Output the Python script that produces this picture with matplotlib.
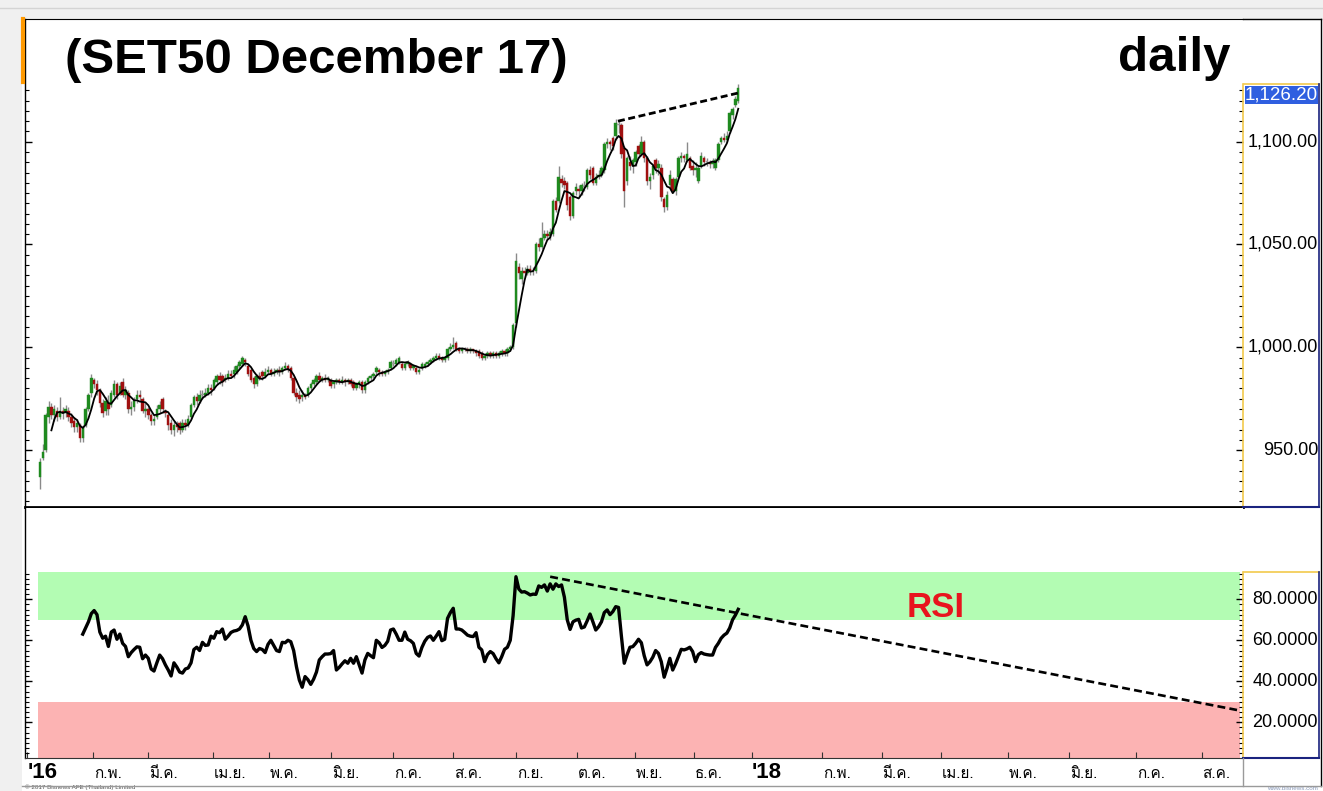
import numpy as np
import pandas as pd
import matplotlib
matplotlib.use("Agg")
import matplotlib.pyplot as plt
from matplotlib import font_manager as fm
from matplotlib.ft2font import FT2Font
from matplotlib.patches import Rectangle
from matplotlib.lines import Line2D
import matplotlib.transforms as mtransforms
from matplotlib.ticker import FixedLocator, NullFormatter

# ---------------- data (daily bars) ----------------
opens = [937,946,950,966,971,967,969,966,969,968,
 969,966,964,961,962,956,962,970,978,984,
 982,979,973,969,973,972,977,982,978,983,
 977,978,970,971,975,977,975,969,970,967,
 964,966,970,975,969,967,963,960,962,963,
 960,963,962,966,972,976,974,977,977,978,
 980,980,983,986,986,984,985,987,987,988,
 991,992,994,991,989,985,982,986,988,986,
 988,989,987,988,989,988,990,991,990,985,
 978,977,976,977,977,980,982,983,986,984,
 985,984,984,982,983,984,983,984,983,984,
 983,980,982,983,979,983,985,986,988,989,
 988,987,988,990,992,992,993,992,990,992,
 992,990,990,988,990,991,992,993,994,995,
 996,995,994,995,999,1000,1002,999,998,999,
 999,998,999,998,998,997,995,996,997,996,
 997,996,997,998,997,999,1000,1012,1039,1033,
 1037,1036,1038,1037,1037,1050,1049,1053,1055,1054,
 1055,1071,1071,1082,1081,1080,1073,1064,1076,1077,
 1076,1078,1078,1086,1087,1080,1083,1084,1086,1099,
 1100,1102,1103,1108,1108,1097,1081,1090,1088,1090,
 1098,1094,1100,1092,1081,1084,1091,1087,1087,1072,
 1068,1079,1082,1076,1083,1092,1093,1091,1092,1088,
 1086,1081,1088,1092,1090,1090,1089,1087,1091,1100,
 1102,1101,1105,1113,1118,1120]

closes = [944,949,967,971,967,970,966,969,968,970,
 966,963,961,963,956,961,970,977,985,982,
 979,973,968,974,970,978,982,977,981,977,
 979,970,971,974,977,976,969,970,967,964,
 965,970,972,970,968,962,960,962,961,960,
 963,962,965,972,976,974,977,977,978,980,
 979,984,986,984,983,985,987,986,989,991,
 993,995,993,987,984,982,986,985,986,988,
 989,987,988,989,988,990,991,989,985,978,
 976,975,977,976,980,982,984,986,984,985,
 984,985,981,983,984,983,984,983,984,982,
 980,982,983,979,983,985,986,987,990,988,
 987,988,989,993,992,994,995,990,992,993,
 990,991,988,989,992,992,993,994,995,996,
 995,994,995,999,1000,1001,999,998,999,999,
 998,999,998,997,996,995,996,997,996,997,
 996,997,998,997,999,1000,1011,1042,1036,1037,
 1036,1038,1037,1037,1050,1049,1053,1055,1054,1056,
 1071,1067,1083,1080,1079,1069,1064,1075,1078,1076,
 1079,1078,1086,1084,1080,1083,1084,1087,1099,1100,
 1099,1098,1109,1108,1094,1076,1092,1088,1091,1095,
 1094,1100,1092,1081,1083,1088,1087,1089,1073,1068,
 1074,1084,1076,1082,1092,1093,1092,1094,1087,1086,
 1087,1087,1093,1090,1090,1089,1090,1091,1099,1102,
 1101,1103,1114,1116,1121,1126.2]

highs = [946,953,968,974,973,972,971,976,971,972,
 971,968,966,965,963,962,971,978,987,985,
 984,980,975,976,977,979,984,983,983,985,
 981,979,974,976,979,979,976,973,971,968,
 967,972,974,976,970,968,965,964,964,964,
 965,965,967,973,977,978,979,979,980,982,
 982,985,987,988,987,987,989,989,991,992,
 994,996,995,992,990,986,987,988,989,990,
 991,990,990,990,991,991,993,992,991,986,
 980,979,979,978,981,983,985,987,988,986,
 987,986,985,984,985,985,986,985,985,985,
 984,983,984,984,984,986,987,988,991,990,
 989,989,990,994,994,995,996,993,993,994,
 993,992,991,990,993,993,994,995,996,997,
 997,996,996,1000,1002,1005,1003,1000,1000,1000,
 1000,1000,999,999,999,998,997,998,998,998,
 998,998,999,999,1000,1001,1012,1046,1041,1039,
 1039,1040,1040,1039,1051,1053,1061,1057,1057,1058,
 1072,1073,1088,1084,1083,1081,1074,1076,1080,1079,
 1080,1081,1087,1088,1088,1085,1086,1088,1100,1102,
 1101,1103,1111,1110,1109,1098,1093,1093,1092,1096,
 1099,1103,1101,1093,1085,1089,1092,1091,1089,1073,
 1076,1086,1083,1083,1093,1095,1094,1100,1093,1091,
 1090,1088,1095,1093,1092,1091,1092,1092,1100,1103,
 1104,1105,1115,1117,1122,1128]

lows = [931,945,949,963,965,964,964,965,965,966,
 964,961,959,959,954,954,961,969,976,980,
 977,971,966,967,967,971,976,975,977,976,
 975,968,967,969,973,974,968,966,965,962,
 962,965,968,968,966,960,958,957,959,958,
 959,960,961,965,971,972,973,975,976,977,
 977,979,982,982,981,983,984,985,985,987,
 990,991,991,986,983,980,981,984,984,985,
 987,986,986,987,986,987,989,988,984,977,
 974,973,974,975,976,979,981,982,983,983,
 983,983,980,980,982,982,982,981,982,981,
 979,979,980,978,978,982,984,985,987,986,
 986,986,987,989,991,991,992,989,989,991,
 989,989,987,987,989,990,991,992,993,994,
 994,993,993,994,998,999,998,997,997,998,
 997,997,997,996,995,994,994,995,995,995,
 995,995,996,996,996,998,999,1010,1033,1031,
 1034,1035,1035,1035,1036,1047,1048,1052,1052,1052,
 1054,1066,1070,1078,1077,1067,1062,1063,1074,1073,
 1074,1076,1077,1082,1079,1079,1082,1083,1085,1097,
 1096,1096,1101,1104,1092,1068,1079,1086,1085,1088,
 1092,1093,1090,1079,1077,1082,1085,1084,1071,1066,
 1067,1078,1075,1074,1082,1090,1090,1090,1086,1084,
 1083,1080,1087,1088,1088,1087,1087,1086,1090,1099,
 1100,1100,1104,1111,1117,1119]

ma_period = 5

rsi_start = 15
rsi_values = [63,66,69,73,74.5,72.5,64,61,62,57,
 64,65,60.5,63,58.5,57,52,54,55.5,56.8,
 56.6,51,52.8,51.2,46,45,49,52.8,51,48,
 45.5,42.6,49,47,44.5,44,46,46.5,49,55.5,
 56.6,55,59,57.5,57.7,62,61,64.2,63.7,65.5,
 60.5,62,63.8,64.5,64.8,65.5,67.5,71.5,67,60,
 56,54.5,56,55.5,54,58,60,57.5,55,54.5,
 59,58.8,60,59.3,55,47,40.6,37.1,42.3,40.8,
 38.5,41,44.5,50.4,52,53.3,53.3,53.5,55,45.5,
 46.8,48.5,50,48.8,51.2,48.8,52,48,44,50.4,
 53.6,52.5,51.5,60,58.8,56.5,57.5,59.5,65,65.5,
 63,60,60,64,60.5,59.8,58.5,53.6,52.3,56.5,
 59.5,61.4,62.1,60,62,64.2,59.8,60.5,70.7,73.5,
 75.6,65.5,65.5,65,63.8,62.5,62,61.8,63.7,56.6,
 55.3,49.6,53,54.5,53.5,51,49,52,55.6,56.6,
 60,72,91,85,83.5,83.7,83,82.1,82.5,82.4,
 86.5,85.8,87,84,87.5,84.9,87.5,86.2,87,81,
 70,65.3,69,69.8,70.2,66,66.5,69.5,72.8,69,
 65,66.6,69,73.5,74.8,72.5,74,76.4,76,62,
 48.8,53,56.6,56.9,58.5,60.5,58.8,52.5,48,49.5,
 51.7,55,53.6,49.5,42,46.3,51.2,45.5,48.5,52,
 55.6,55.3,55.8,56.6,54.5,49.6,53,54,53.3,53,
 52.8,52.8,56.5,58.5,61,62.5,63.5,66,70,72.3,
 75.1]

price_trend_x = [202.8, 245]
price_trend_y = [1110, 1123.7]
rsi_trend_x = [179, 420]
rsi_trend_y = [91, 26]

overbought_band = (70, 93.3)
oversold_band = (0, 30)

price_ticks = [950, 1000, 1050, 1100]
rsi_ticks = [20, 40, 60, 80]
last_price = 1126.20

axis_labels = ["'16", "ก.พ.", "มี.ค.", "เม.ย.", "พ.ค.", "มิ.ย.", "ก.ค.", "ส.ค.",
               "ก.ย.", "ต.ค.", "พ.ย.", "ธ.ค.", "'18", "ก.พ.", "มี.ค.", "เม.ย.",
               "พ.ค.", "มิ.ย.", "ก.ค.", "ส.ค."]
axis_label_pos = [-4.5, 18.6, 37.9, 60.7, 80.4, 102.1, 123.9, 144.9, 167.0, 188.4,
                  208.8, 229.5, 249.8, 274.4, 295.3, 316.0, 339.6, 361.0, 384.7, 407.6]

title_text = "(SET50 December 17)"
period_text = "daily"

n = len(closes)
if not (len(opens) == len(highs) == len(lows) == n):
    raise ValueError(f"length mismatch {len(opens)} {len(highs)} {len(lows)} {n}")

# ---------------- fonts ----------------
def find_thai_font():
    for f in fm.fontManager.ttflist:
        try:
            cm = FT2Font(f.fname).get_charmap()
            if 0x0E01 in cm and 0x0E21 in cm and 0x0E35 in cm:
                return f.name
        except Exception:
            pass
    return None

thai = find_thai_font()
base = "Liberation Sans"
narrow = "Liberation Sans Narrow"
avail = {f.name for f in fm.fontManager.ttflist}
title_family = [narrow, base] if narrow in avail else [base]
title_size = 44 if narrow in avail else 35.5
thai_family = ([thai] if thai else []) + [base, "DejaVu Sans"]
plt.rcParams["font.family"] = [base, "DejaVu Sans"]

# ---------------- figure layout ----------------
W, H = 1323, 791
fig = plt.figure(figsize=(W / 100, H / 100), dpi=100)
fig.patch.set_facecolor("#f0f0f0")

def fx(px):
    return px / W

def fy(py):
    return 1 - py / H

fig.add_artist(Rectangle((fx(22), 0), 1 - fx(22), fy(19), transform=fig.transFigure,
                         facecolor="white", edgecolor="none", zorder=-10))
fig.add_artist(Line2D([0, 1], [fy(8), fy(8)], transform=fig.transFigure, color="#d4d4d4", lw=1))

ax1 = fig.add_axes([fx(25), fy(507), fx(1243) - fx(25), fy(19) - fy(507)])
ax2 = fig.add_axes([fx(25), fy(758), fx(1243) - fx(25), fy(508) - fy(758)])

xlim = (-5.26, 422.1)
for ax in (ax1, ax2):
    ax.set_xlim(*xlim)
    ax.set_facecolor("white")

ax1.set_ylim(922.3, 1159.7)
ax2.set_ylim(2.6, 124.5)

# ---------------- candles ----------------
x = np.arange(n)
o = np.array(opens, float)
c = np.array(closes, float)
h = np.array(highs, float)
l = np.array(lows, float)
colors = np.where(c > o, "#1f8a1f", np.where(c < o, "#a01010", "#9a9a9a"))
ax1.vlines(x, l, h, color="#8a8a8a", lw=1.0, zorder=2)
body_lo = np.minimum(o, c)
body_h = np.maximum(np.abs(c - o), 0.5)
ax1.bar(x, body_h, bottom=body_lo, width=0.85, color=colors, edgecolor=colors,
        linewidth=0.3, zorder=3)

ma = pd.Series(c).rolling(ma_period).mean()
ax1.plot(x, ma, color="black", lw=1.3, zorder=4)

ax1.plot(price_trend_x, price_trend_y, color="black", lw=2.0, dashes=(2.5, 1.3), zorder=5)

# ---------------- RSI ----------------
band_x0, band_x1 = -0.7, 421.0
ax2.add_patch(Rectangle((band_x0, overbought_band[0]), band_x1 - band_x0,
                        overbought_band[1] - overbought_band[0],
                        facecolor="#b3fcb3", edgecolor="none", zorder=1))
ax2.add_patch(Rectangle((band_x0, oversold_band[0]), band_x1 - band_x0,
                        oversold_band[1] - oversold_band[0],
                        facecolor="#fcb3b3", edgecolor="none", zorder=1))
rx = np.arange(rsi_start, rsi_start + len(rsi_values))
ax2.plot(rx, rsi_values, color="black", lw=2.4, zorder=4, solid_joinstyle="round")
ax2.plot(rsi_trend_x, rsi_trend_y, color="black", lw=1.9, dashes=(3, 1.6), zorder=5)
ax2.text(314.4, 75.8, "RSI", color="#e8141e", fontsize=25, fontweight="bold",
         ha="center", va="center", zorder=6)

# ---------------- spines & ticks ----------------
for ax in (ax1, ax2):
    ax.spines["left"].set_color("black")
    ax.spines["left"].set_linewidth(1.0)
    ax.spines["right"].set_color("#f2c94c")
    ax.spines["right"].set_linewidth(1.2)
    ax.tick_params(axis="y", which="both", direction="in", left=True, right=True,
                   labelleft=False, labelright=False, color="black")
    ax.tick_params(axis="y", which="major", length=5, width=1)
    ax.tick_params(axis="y", which="minor", length=3, width=0.8)

ax1.spines["top"].set_color("black")
ax1.spines["bottom"].set_color("black")
ax1.spines["bottom"].set_linewidth(2.0)
ax1.spines["right"].set_bounds(922.3, 1128.0)
ax1.yaxis.set_major_locator(FixedLocator(price_ticks))
ax1.yaxis.set_minor_locator(FixedLocator(np.arange(925, 1128, 5)))
ax1.tick_params(axis="x", which="both", bottom=False, labelbottom=False)

ax2.spines["top"].set_visible(False)
ax2.spines["bottom"].set_color("#333333")
ax2.spines["right"].set_bounds(2.6, 93.3)
ax2.yaxis.set_major_locator(FixedLocator(rsi_ticks))
ax2.yaxis.set_minor_locator(FixedLocator(np.arange(5, 93, 2.5)))
ax2.set_xticks(axis_label_pos)
ax2.xaxis.set_major_formatter(NullFormatter())
ax2.tick_params(axis="x", which="major", direction="in", length=4, color="#333333",
                top=False, bottom=True)

# right-hand value labels
tr1 = mtransforms.blended_transform_factory(fig.transFigure, ax1.transData)
for v in price_ticks:
    ax1.text(fx(1318), v, f"{v:,.2f}", transform=tr1, ha="right", va="center",
             fontsize=13, color="black", clip_on=False)
tr2 = mtransforms.blended_transform_factory(fig.transFigure, ax2.transData)
for v in rsi_ticks:
    ax2.text(fx(1318), v, f"{v:.4f}", transform=tr2, ha="right", va="center",
             fontsize=13, color="black", clip_on=False)

# last-price marker box
fig.add_artist(Rectangle((fx(1245), fy(104)), fx(1318) - fx(1245), fy(86) - fy(104),
                         transform=fig.transFigure, facecolor="#2f5fe0",
                         edgecolor="none", zorder=6))
fig.text(fx(1281), fy(95), f"{last_price:,.2f}", color="white", fontsize=13.5,
         ha="center", va="center", zorder=7)

# axis panes borders
def fline(xs, ys, color, lw):
    fig.add_artist(Line2D([fx(v) for v in xs], [fy(v) for v in ys],
                          transform=fig.transFigure, color=color, lw=lw, zorder=8))

fline([1243, 1321], [19, 19], "black", 1.0)
fline([1321, 1321], [19, 786], "black", 1.0)
fline([1244, 1319], [84, 84], "#f2c94c", 1.2)
fline([1319, 1319], [84, 507], "#1a237e", 1.2)
fline([1243, 1319], [507, 507], "#1a237e", 1.5)
fline([1244, 1319], [572, 572], "#f2c94c", 1.2)
fline([1319, 1319], [572, 758], "#1a237e", 1.2)
fline([1243, 1319], [758, 758], "#1a237e", 1.5)
fline([22, 1321], [786, 786], "#9a9a9a", 1.0)
fline([1243, 1243], [758, 786], "#9a9a9a", 1.0)
fline([23, 23], [19, 82], "#ff9900", 3.0)

# ---------------- x labels ----------------
trx = mtransforms.blended_transform_factory(ax2.transData, fig.transFigure)
for lab, pos in zip(axis_labels, axis_label_pos):
    if lab.startswith("'"):
        ax2.text(pos, fy(773), lab, transform=trx, ha="left", va="center",
                 fontsize=16, fontweight="bold", clip_on=False)
    else:
        ax2.text(pos + 0.3, fy(774), lab, transform=trx, ha="left", va="center",
                 fontsize=11, family=thai_family, clip_on=False)

# ---------------- titles ----------------
fig.text(fx(65), fy(73), title_text, fontsize=title_size, fontweight="bold",
         family=title_family, ha="left", va="baseline")
fig.text(fx(1230), fy(71), period_text, fontsize=35.5, fontweight="bold",
         ha="right", va="baseline")

fig.text(fx(25), fy(790.5), "\u00a9 2017 Bisnews AFE (Thailand) Limited", fontsize=4.5,
         ha="left", va="bottom", color="#555555")
fig.text(fx(1318), fy(790.5), "www.bisnews.com", fontsize=4.5, ha="right", va="bottom",
         color="#8899bb")

fig.savefig("out.png", dpi=100, facecolor=fig.get_facecolor())
